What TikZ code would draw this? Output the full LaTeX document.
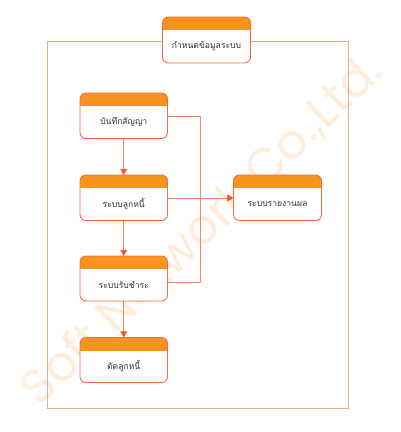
\documentclass[tikz,border=0pt]{standalone}
\usepackage{fontspec}
\setmainfont{Liberation Sans}
\newfontfamily\thaifont[Script=Thai]{Loma}
\newfontfamily\markfont{Poppins}
\usetikzlibrary{arrows.meta}
\definecolor{boxline}{HTML}{F26D3D}
\definecolor{boxhead}{HTML}{F7931E}
\definecolor{frameline}{HTML}{F6A584}
\definecolor{linkline}{HTML}{F3865C}
\definecolor{tipcol}{HTML}{EE5A24}
\definecolor{txt}{HTML}{2E2E2E}
\definecolor{wm}{HTML}{FFEDDB}
\tikzset{
  x=1pt, y=-1pt,
  label/.style={font=\thaifont\fontsize{8.6}{10}\selectfont, text=txt, inner sep=0pt},
  link/.style={draw=linkline, line width=0.8pt},
  flow/.style={link, -{Triangle[length=6pt, width=7pt, color=tipcol]}},
}
% a stage box: rounded outline with an orange header band
\newcommand{\stagebox}[6]{%
  % #1 name, #2 left, #3 top, #4 right, #5 bottom, #6 text
  \begin{scope}
    \clip[rounded corners=6pt] (#2,#3) rectangle (#4,#5);
    \fill[white] (#2,#3) rectangle (#4,#5);
    \fill[boxhead] (#2,#3) rectangle (#4,#3+13);
  \end{scope}
  \draw[boxline, line width=0.9pt, rounded corners=6pt] (#2,#3) rectangle (#4,#5);
  \node[minimum width=#4pt-#2pt, minimum height=#5pt-#3pt, inner sep=0pt] (#1) at ({(#2+#4)/2},{(#3+#5)/2}) {};
  \node[label] (#1-t) at ({(#2+#4)/2},{(#3+13+#5)/2}) {#6};
}
\begin{document}
\begin{tikzpicture}
\useasboundingbox (0,0) rectangle (400,432);
\fill[white] (0,0) rectangle (400,432);
% watermark
\node[text=wm, font=\markfont\fontsize{48}{48}\selectfont, rotate=44, inner sep=0pt] (mark) at (202,230) {Soft Network Co.,Ltd.};
% system frame
\draw[frameline, line width=1pt] (47,41) rectangle (348,408);
% stages
\stagebox{setup}{162.5}{17}{250.5}{63}{กำหนดข้อมูลระบบ}
\stagebox{contract}{80}{93}{167.5}{138.5}{บันทึกสัญญา}
\stagebox{debtor}{80}{175}{167.5}{220.5}{ระบบลูกหนี้}
\stagebox{payment}{80}{256}{167.5}{301}{ระบบรับชำระ}
\stagebox{writeoff}{80}{337.5}{167.5}{382.5}{ตัดลูกหนี้}
\stagebox{report}{233.5}{175}{321.5}{220.5}{ระบบรายงานผล}
% connectors
\coordinate (bus-top) at (200.7,116.7);
\coordinate (bus-bot) at (200.7,282.3);
\draw[link] (contract.east |- bus-top) -- (bus-top) -- (bus-bot) -- (payment.east |- bus-bot);
\draw[flow] (contract.south) -- (debtor.north);
\draw[flow] (debtor.south) -- (payment.north);
\draw[flow] (payment.south) -- (writeoff.north);
\draw[flow] (debtor.east |- 0,198) -- (report.west |- 0,198);
\end{tikzpicture}
\end{document}
